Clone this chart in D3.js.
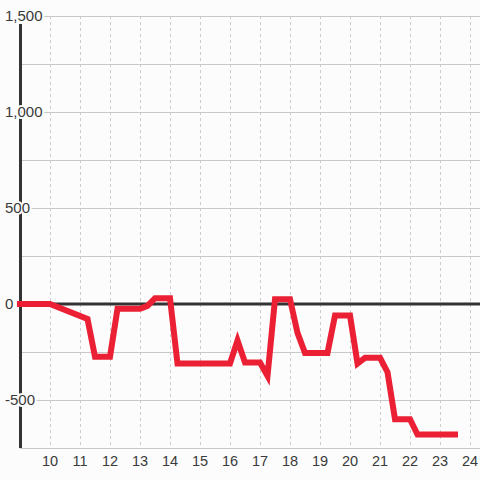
<!DOCTYPE html>
<html>
  <head>
    <meta charset="utf-8">
    <script src="https://d3js.org/d3.v7.min.js"></script>
    <style>
      body { margin: 0; background: #fbfcfb; }
      text { font-family: "Liberation Sans", Arial, sans-serif; fill: #3a3a3a; }
    </style>
  </head>
  <body>
    <div id="chart"></div>
    <script>
      // hour of day
      const hours = [9, 10, 11.25, 11.5, 12, 12.25, 13, 13.25, 13.5, 14, 14.25, 16, 16.25, 16.5, 17, 17.25, 17.5, 18, 18.25, 18.5, 19.25, 19.5, 20, 20.25, 20.5, 21, 21.25, 21.5, 22, 22.25, 23.5];
      const values = [0, 0, -78, -275, -275, -25, -25, -10, 30, 30, -310, -310, -190, -305, -305, -375, 25, 25, -150, -255, -255, -60, -60, -310, -280, -280, -355, -600, -600, -680, -680];
      const xTicks = [10, 11, 12, 13, 14, 15, 16, 17, 18, 19, 20, 21, 22, 23, 24];
      const yGrid = [1500, 1250, 1000, 750, 500, 250, -250, -500, -750];
      const yLabels = [1500, 1000, 500, 0, -500];

      const W = 480, H = 480;
      const svg = d3.select("#chart").append("svg")
        .attr("width", W).attr("height", H);

      const x = d3.scaleLinear().domain([9, 24.333]).range([20, 480]);
      const y = d3.scaleLinear().domain([-750, 1500]).range([448, 16]);

      // vertical dashed grid
      svg.append("g").selectAll("line").data(xTicks).join("line")
        .attr("x1", d => x(d) + 0.5).attr("x2", d => x(d) + 0.5)
        .attr("y1", y(1500)).attr("y2", y(-750))
        .attr("stroke", "#ccc").attr("stroke-dasharray", "3,3");

      // horizontal grid
      svg.append("g").selectAll("line").data(yGrid).join("line")
        .attr("x1", 20).attr("x2", W)
        .attr("y1", d => Math.round(y(d)) + 0.5).attr("y2", d => Math.round(y(d)) + 0.5)
        .attr("stroke", "#c8c8c8");

      // left axis line
      svg.append("line")
        .attr("x1", 20.5).attr("x2", 20.5)
        .attr("y1", 24).attr("y2", 448)
        .attr("stroke", "#333").attr("stroke-width", 3);

      // zero line
      svg.append("line")
        .attr("x1", 20).attr("x2", W)
        .attr("y1", y(0)).attr("y2", y(0))
        .attr("stroke", "#333").attr("stroke-width", 3);

      // y labels with background halo
      const fmt = d3.format(",");
      svg.append("g").selectAll("text").data(yLabels).join("text")
        .attr("x", 5).attr("y", d => y(d))
        .attr("dy", "0.36em")
        .style("font-size", "15px")
        .style("stroke", "#fbfcfb").style("stroke-width", 4)
        .style("paint-order", "stroke")
        .text(d => fmt(d).replace("\u2212", "-"));

      // x labels
      svg.append("g").selectAll("text").data(xTicks).join("text")
        .attr("x", d => x(d)).attr("y", 466)
        .attr("text-anchor", "middle")
        .style("font-size", "14.5px")
        .text(d => d);

      // data line
      const line = d3.line().x((d, i) => x(hours[i])).y(d => y(d));
      svg.append("path")
        .datum(values)
        .attr("d", line)
        .attr("fill", "none")
        .attr("stroke", "#ec2035")
        .attr("stroke-width", 6)
        .attr("stroke-linecap", "square")
        .attr("stroke-linejoin", "miter");
    </script>
  </body>
</html>
